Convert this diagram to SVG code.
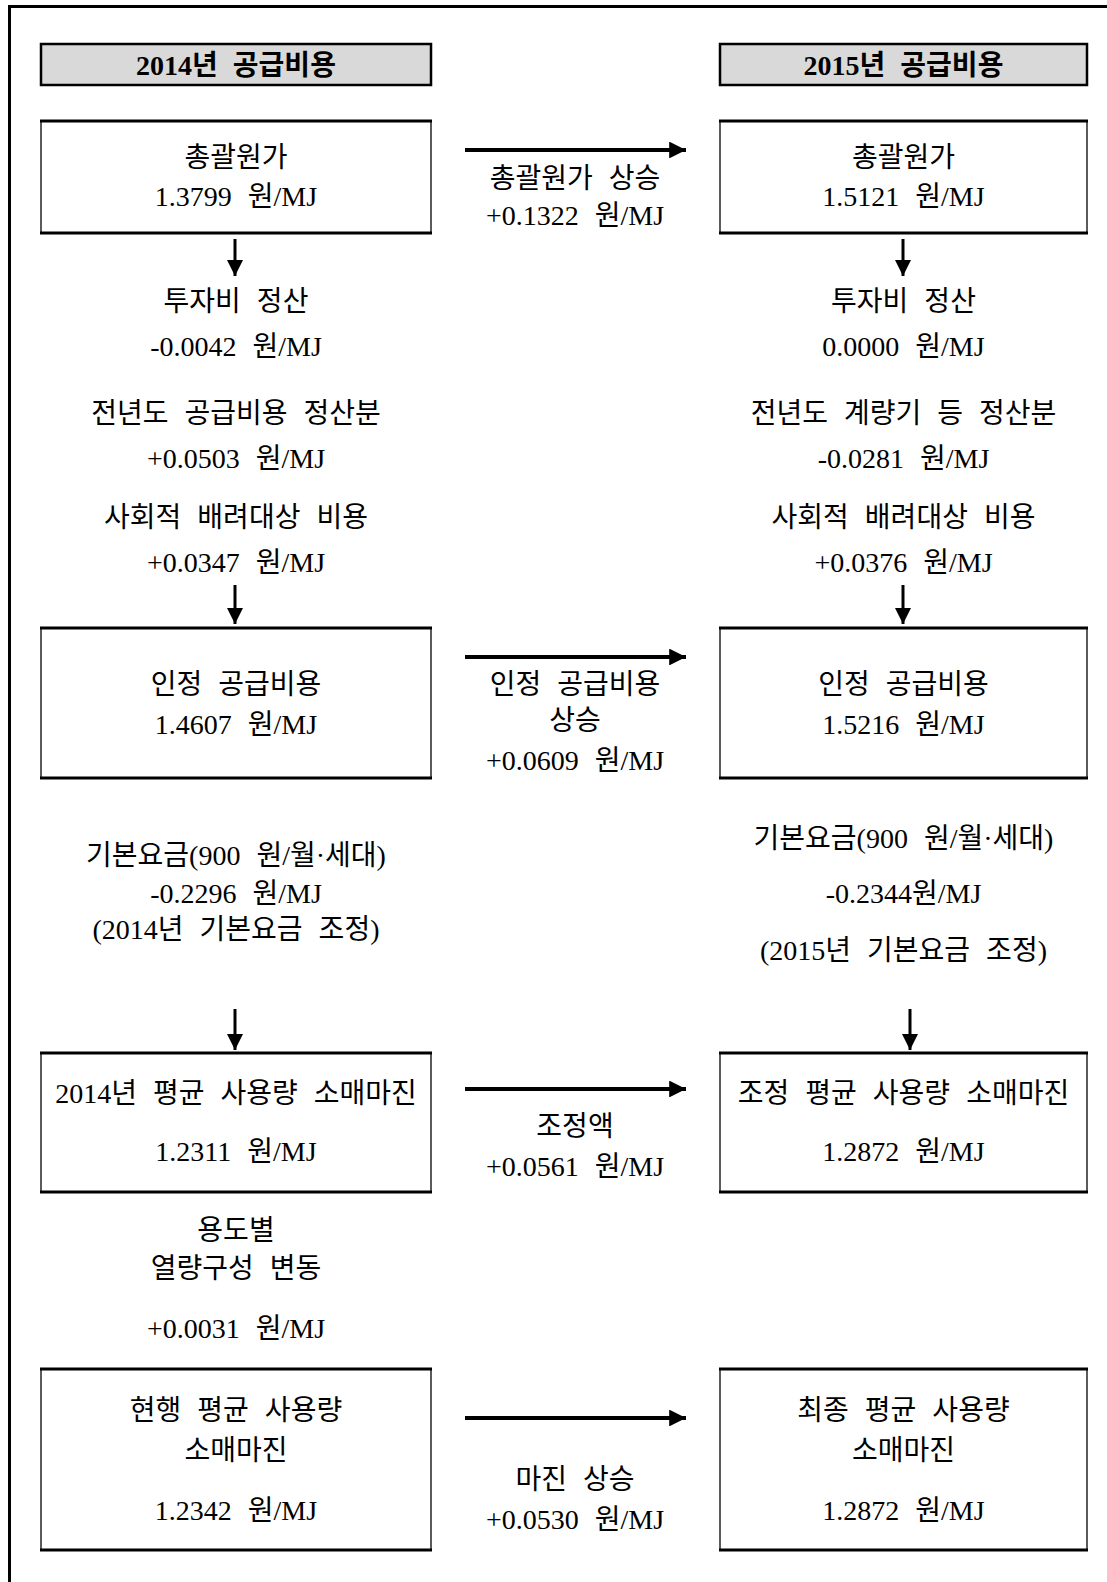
<svg xmlns="http://www.w3.org/2000/svg" width="1107" height="1582" viewBox="0 0 1107 1582">
<defs>
<style>
text{font-family:"Liberation Serif","Noto Sans CJK KR",serif;font-size:28px;fill:#000;text-anchor:middle;dominant-baseline:central;word-spacing:9px}
.hd{font-weight:bold;font-size:28px;word-spacing:8px}
.box{fill:#fff;stroke:#333;stroke-width:1.6}
.edge{stroke:#000;stroke-width:3}
.hbox{fill:#d9d9d9;stroke:#000;stroke-width:2.5}
.conn{stroke:#000;fill:none}
.v{stroke-width:3}
.h{stroke-width:4}
</style>
<marker id="ah" viewBox="0 0 10 10" refX="10" refY="5" markerWidth="4.2" markerHeight="4.2" markerUnits="strokeWidth" orient="auto">
<path d="M0,0 L10,5 L0,10 z" fill="#000"/>
</marker>
<marker id="ahv" viewBox="0 0 10 10" refX="10" refY="5" markerWidth="5.5" markerHeight="5.5" markerUnits="strokeWidth" orient="auto">
<path d="M0,0 L10,5 L0,10 z" fill="#000"/>
</marker>
</defs>
<rect width="1107" height="1582" fill="#fff"/>
<g id="frame">
<line x1="9.5" y1="6.5" x2="1107" y2="6.5" stroke="#000" stroke-width="3"/>
<line x1="9.5" y1="5" x2="9.5" y2="1582" stroke="#000" stroke-width="3"/>
</g>
<g id="header-2014"><rect class="hbox" x="41" y="44" width="390" height="41"/><text class="hd" x="236" y="65">2014년 공급비용</text></g>
<g id="header-2015"><rect class="hbox" x="720" y="44" width="367" height="41"/><text class="hd" x="903.5" y="65">2015년 공급비용</text></g>

<g id="n-2014-total"><rect class="box" x="41" y="121" width="390" height="112"/><line class="edge" x1="40" y1="121" x2="432" y2="121"/><line class="edge" x1="40" y1="233" x2="432" y2="233"/><text x="236" y="157">총괄원가</text><text x="236" y="196">1.3799 원/MJ</text></g>
<g id="n-2015-total"><rect class="box" x="720" y="121" width="367" height="112"/><line class="edge" x1="719" y1="121" x2="1088" y2="121"/><line class="edge" x1="719" y1="233" x2="1088" y2="233"/><text x="903.5" y="157">총괄원가</text><text x="903.5" y="196">1.5121 원/MJ</text></g>

<g id="n-2014-adj1"><text x="236" y="301">투자비 정산</text><text x="236" y="346">-0.0042 원/MJ</text><text x="236" y="413">전년도 공급비용 정산분</text><text x="236" y="458">+0.0503 원/MJ</text><text x="236" y="517">사회적 배려대상 비용</text><text x="236" y="562">+0.0347 원/MJ</text></g>
<g id="n-2015-adj1"><text x="903.5" y="301">투자비 정산</text><text x="903.5" y="346">0.0000 원/MJ</text><text x="903.5" y="413">전년도 계량기 등 정산분</text><text x="903.5" y="458">-0.0281 원/MJ</text><text x="903.5" y="517">사회적 배려대상 비용</text><text x="903.5" y="562">+0.0376 원/MJ</text></g>

<g id="n-2014-approved"><rect class="box" x="41" y="628" width="390" height="150"/><line class="edge" x1="40" y1="628" x2="432" y2="628"/><line class="edge" x1="40" y1="778" x2="432" y2="778"/><text x="236" y="684">인정 공급비용</text><text x="236" y="724">1.4607 원/MJ</text></g>
<g id="n-2015-approved"><rect class="box" x="720" y="628" width="367" height="150"/><line class="edge" x1="719" y1="628" x2="1088" y2="628"/><line class="edge" x1="719" y1="778" x2="1088" y2="778"/><text x="903.5" y="684">인정 공급비용</text><text x="903.5" y="724">1.5216 원/MJ</text></g>

<g id="n-2014-base"><text x="236" y="855">기본요금(900 원/월·세대)</text><text x="236" y="893">-0.2296 원/MJ</text><text x="236" y="929">(2014년 기본요금 조정)</text></g>
<g id="n-2015-base"><text x="903.5" y="838">기본요금(900 원/월·세대)</text><text x="903.5" y="893">-0.2344원/MJ</text><text x="903.5" y="950">(2015년 기본요금 조정)</text></g>

<g id="n-2014-margin"><rect class="box" x="41" y="1053" width="390" height="139"/><line class="edge" x1="40" y1="1053" x2="432" y2="1053"/><line class="edge" x1="40" y1="1192" x2="432" y2="1192"/><text x="236" y="1093">2014년 평균 사용량 소매마진</text><text x="236" y="1151">1.2311 원/MJ</text></g>
<g id="n-2015-margin"><rect class="box" x="720" y="1053" width="367" height="139"/><line class="edge" x1="719" y1="1053" x2="1088" y2="1053"/><line class="edge" x1="719" y1="1192" x2="1088" y2="1192"/><text x="903.5" y="1093">조정 평균 사용량 소매마진</text><text x="903.5" y="1151">1.2872 원/MJ</text></g>

<g id="n-2014-usage"><text x="236" y="1230">용도별</text><text x="236" y="1268">열량구성 변동</text><text x="236" y="1328">+0.0031 원/MJ</text></g>

<g id="n-2014-current"><rect class="box" x="41" y="1369" width="390" height="181"/><line class="edge" x1="40" y1="1369" x2="432" y2="1369"/><line class="edge" x1="40" y1="1550" x2="432" y2="1550"/><text x="236" y="1410">현행 평균 사용량</text><text x="236" y="1450">소매마진</text><text x="236" y="1510">1.2342 원/MJ</text></g>
<g id="n-2015-final"><rect class="box" x="720" y="1369" width="367" height="181"/><line class="edge" x1="719" y1="1369" x2="1088" y2="1369"/><line class="edge" x1="719" y1="1550" x2="1088" y2="1550"/><text x="903.5" y="1410">최종 평균 사용량</text><text x="903.5" y="1450">소매마진</text><text x="903.5" y="1510">1.2872 원/MJ</text></g>

<g id="connectors">
<line class="conn v" x1="235" y1="239" x2="235" y2="276" marker-end="url(#ahv)"/>
<line class="conn v" x1="903" y1="239" x2="903" y2="276" marker-end="url(#ahv)"/>
<line class="conn v" x1="235" y1="585" x2="235" y2="624" marker-end="url(#ahv)"/>
<line class="conn v" x1="903" y1="585" x2="903" y2="624" marker-end="url(#ahv)"/>
<line class="conn v" x1="235" y1="1009" x2="235" y2="1050" marker-end="url(#ahv)"/>
<line class="conn v" x1="910" y1="1009" x2="910" y2="1050" marker-end="url(#ahv)"/>
<line class="conn h" x1="465" y1="150" x2="686" y2="150" marker-end="url(#ah)"/>
<line class="conn h" x1="465" y1="657" x2="686" y2="657" marker-end="url(#ah)"/>
<line class="conn h" x1="465" y1="1089" x2="686" y2="1089" marker-end="url(#ah)"/>
<line class="conn h" x1="465" y1="1418" x2="686" y2="1418" marker-end="url(#ah)"/>
</g>
<g id="edge-labels">
<text x="575" y="178">총괄원가 상승</text><text x="575" y="215">+0.1322 원/MJ</text>
<text x="575" y="684">인정 공급비용</text><text x="575" y="720">상승</text><text x="575" y="760">+0.0609 원/MJ</text>
<text x="575" y="1126">조정액</text><text x="575" y="1166">+0.0561 원/MJ</text>
<text x="575" y="1479">마진 상승</text><text x="575" y="1519">+0.0530 원/MJ</text>
</g>
</svg>
